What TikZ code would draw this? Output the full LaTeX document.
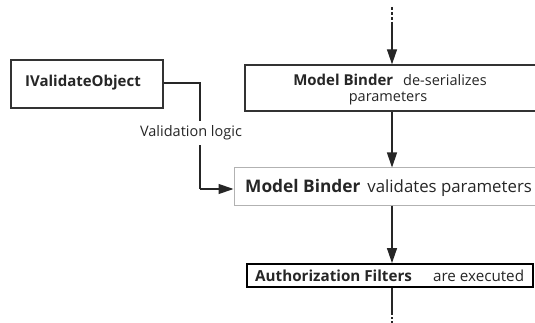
\documentclass[tikz,border=0pt]{standalone}
\usepackage{fontspec}
\setmainfont{Open Sans}
\usetikzlibrary{arrows.meta}
\tikzset{
  flow/.style={line width=1.2pt, draw=black!85, -{Triangle[width=10pt,length=15pt]}},
  plain/.style={line width=1.2pt, draw=black!85},
  darkbox/.style={draw=black!80, line width=1.3pt, fill=white, inner sep=0pt},
  lightbox/.style={draw=black!30, line width=1pt, fill=white, inner sep=0pt},
  heavybox/.style={draw=black, line width=1.8pt, fill=white, inner sep=0pt},
  txt/.style={inner sep=0pt, text=black!85},
}
\begin{document}
\begin{tikzpicture}[x=1pt,y=-1pt]
\useasboundingbox (0,0) rectangle (535,323);
\clip (0,0) rectangle (535,323);

% boxes
\node[darkbox, minimum width=152pt, minimum height=48pt] (iv) at (87,84) {};
\node[txt, font=\bfseries\fontsize{15}{17}\selectfont] (ivt) at (83,83) {IValidateObject};

\node[darkbox, minimum width=300pt, minimum height=46pt] (des) at (395,88) {};
\node[txt, font=\fontsize{14.5}{17}\selectfont] (dest1) at (390,80)
  {{\bfseries\fontsize{15}{17}\selectfont Model Binder}\hspace{10pt}de-serializes};
\node[txt, font=\fontsize{14.5}{17}\selectfont] (dest2) at (388,98) {parameters};

\node[lightbox, minimum width=311pt, minimum height=37pt] (val) at (389.5,186.5) {};
\node[txt, anchor=west, font=\fontsize{16.8}{19}\selectfont] (valt) at (245,188)
  {{\bfseries\fontsize{17.3}{19}\selectfont Model Binder}\hspace{7pt}validates parameters};

\node[heavybox, minimum width=286pt, minimum height=23pt] (auth) at (390,275.5) {};
\node[txt, anchor=west, font=\fontsize{15.2}{17}\selectfont] (autht) at (255,275.5)
  {\textbf{Authorization Filters}\hspace{21pt}are executed};

% incoming flow from above
\coordinate (top) at (392,7);
\coordinate (topsolid) at (392,22);
\draw[plain, dash pattern=on 3pt off 2pt] (top) -- (topsolid);
\draw[flow] (topsolid) -- (des.north -| top);

% main chain
\draw[flow] (des.south -| top) -- (val.north -| top);
\draw[flow] (val.south -| top) -- (auth.north -| top);

% outgoing flow below
\coordinate (bot) at (392,313);
\coordinate (botend) at (392,323);
\draw[plain] (auth.south -| bot) -- (bot);
\draw[plain, dash pattern=on 2pt off 2pt] (bot) -- (botend);

% validation logic link
\coordinate (bend1) at (200,83);
\coordinate (bend2) at (200,189);
\draw[plain] (iv.east |- bend1) -- (bend1) -- (bend2);
\draw[flow] (bend2) -- (val.west |- bend2);
\node[txt, fill=white, inner ysep=5pt, font=\fontsize{14.5}{16}\selectfont] (lbl) at (191,133) {Validation logic};
\end{tikzpicture}
\end{document}
